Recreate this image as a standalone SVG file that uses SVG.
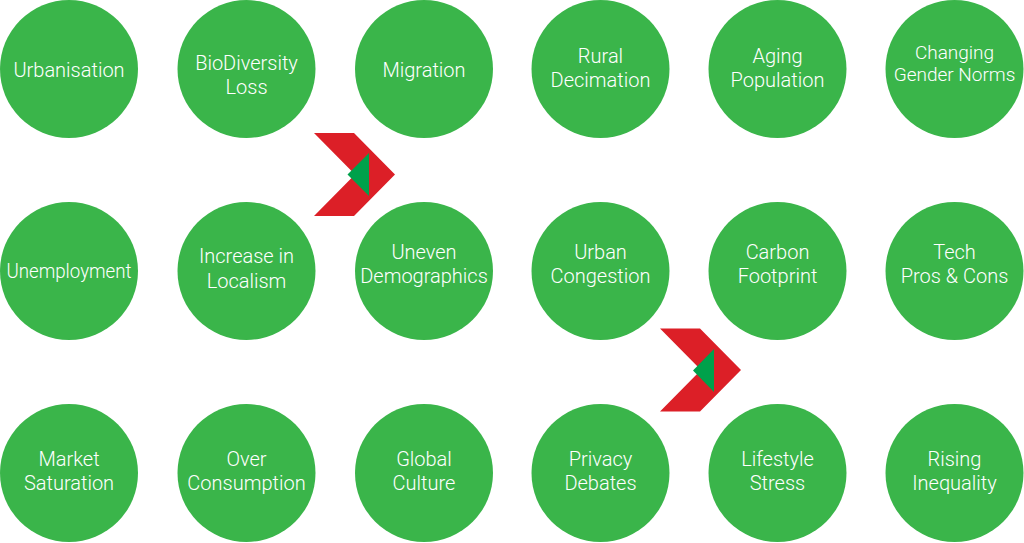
<svg xmlns="http://www.w3.org/2000/svg" width="1024" height="543" viewBox="0 0 1024 543">
<style>
.c{fill:#3AB54A}
.t{fill:#ffffff;font-family:Roboto,"Liberation Sans",Arial,sans-serif;font-weight:300;font-size:20px;text-anchor:middle}
.s{font-size:19px}
.chev{fill:#DC1F27}
.tri{fill:#00A14B}
</style>
<rect width="1024" height="543" fill="#ffffff"/>
<g id="connectors">
<g id="arrow1"><polygon class="chev" points="314,133 354,133 395,174.5 354,216 314,216 355,174.5"/><polygon class="tri" points="369,153 369,196 347.5,174.5"/></g>
<g id="arrow2"><polygon class="chev" points="660,328.5 700,328.5 741,370 700,411.5 660,411.5 701,370"/><polygon class="tri" points="714,349 714,392 693,370.5"/></g>
</g>
<g id="n1"><circle class="c" cx="69" cy="69" r="69"/><text class="t" x="69" y="77">Urbanisation</text></g>
<g id="n2"><circle class="c" cx="246.5" cy="69" r="69"/><text class="t" x="246.5" y="69.5">BioDiversity</text><text class="t" x="246.5" y="93.5">Loss</text></g>
<g id="n3"><circle class="c" cx="424" cy="69" r="69"/><text class="t" x="424" y="77">Migration</text></g>
<g id="n4"><circle class="c" cx="600.5" cy="69" r="69"/><text class="t" x="600.5" y="62.5">Rural</text><text class="t" x="600.5" y="86.5">Decimation</text></g>
<g id="n5"><circle class="c" cx="777.5" cy="69" r="69"/><text class="t" x="777.5" y="62.5">Aging</text><text class="t" x="777.5" y="86.5">Population</text></g>
<g id="n6"><circle class="c" cx="954.5" cy="69" r="69"/><text class="t s" x="954.5" y="59">Changing</text><text class="t s" x="954.5" y="81">Gender Norms</text></g>
<g id="n7"><circle class="c" cx="69" cy="271" r="69"/><text class="t" x="69" y="278" textLength="125" lengthAdjust="spacingAndGlyphs">Unemployment</text></g>
<g id="n8"><circle class="c" cx="246.5" cy="271" r="69"/><text class="t" x="246.5" y="263">Increase in</text><text class="t" x="246.5" y="287.5">Localism</text></g>
<g id="n9"><circle class="c" cx="424" cy="271" r="69"/><text class="t" x="424" y="258.5">Uneven</text><text class="t" x="424" y="282.5">Demographics</text></g>
<g id="n10"><circle class="c" cx="600.5" cy="271" r="69"/><text class="t" x="600.5" y="258.5">Urban</text><text class="t" x="600.5" y="282.5">Congestion</text></g>
<g id="n11"><circle class="c" cx="777.5" cy="271" r="69"/><text class="t" x="777.5" y="258.5">Carbon</text><text class="t" x="777.5" y="282.5">Footprint</text></g>
<g id="n12"><circle class="c" cx="954.5" cy="271" r="69"/><text class="t" x="954.5" y="258.5">Tech</text><text class="t" x="954.5" y="282.5">Pros &amp; Cons</text></g>
<g id="n13"><circle class="c" cx="69" cy="473" r="69"/><text class="t" x="69" y="465.5">Market</text><text class="t" x="69" y="490">Saturation</text></g>
<g id="n14"><circle class="c" cx="246.5" cy="473" r="69"/><text class="t" x="246.5" y="465.5">Over</text><text class="t" x="246.5" y="490">Consumption</text></g>
<g id="n15"><circle class="c" cx="424" cy="473" r="69"/><text class="t" x="424" y="465.5">Global</text><text class="t" x="424" y="490">Culture</text></g>
<g id="n16"><circle class="c" cx="600.5" cy="473" r="69"/><text class="t" x="600.5" y="465.5">Privacy</text><text class="t" x="600.5" y="490">Debates</text></g>
<g id="n17"><circle class="c" cx="777.5" cy="473" r="69"/><text class="t" x="777.5" y="465.5">Lifestyle</text><text class="t" x="777.5" y="490">Stress</text></g>
<g id="n18"><circle class="c" cx="954.5" cy="473" r="69"/><text class="t" x="954.5" y="465.5">Rising</text><text class="t" x="954.5" y="490">Inequality</text></g>
</svg>
